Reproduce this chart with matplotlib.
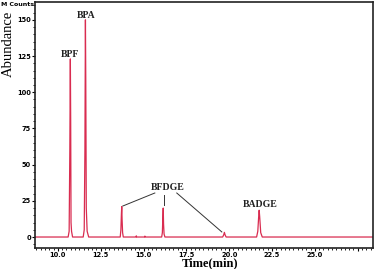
import matplotlib
matplotlib.use("Agg")
import matplotlib.pyplot as plt
from matplotlib.ticker import MultipleLocator

# --- chromatogram trace (time in min, abundance in M counts) ---
trace_time = [8.70, 10.60, 10.66, 10.70, 10.73, 10.75, 10.77, 10.80, 10.86, 11.48,
              11.54, 11.58, 11.61, 11.63, 11.66, 11.71, 11.80, 13.64, 13.68, 13.71,
              13.73, 13.75, 13.78, 13.82, 14.56, 14.58, 14.60, 15.06, 15.08, 15.10,
              16.06, 16.10, 16.13, 16.15, 16.17, 16.20, 16.25, 19.62, 19.68, 19.72,
              19.76, 19.82, 21.60, 21.67, 21.72, 21.75, 21.78, 21.84, 21.93, 28.40]
trace_abund = [0.0, 0.0, 4.0, 60.0, 123.0, 80.0, 10.0, 4.0, 0.0, 0.0,
               5.0, 60.0, 150.0, 110.0, 20.0, 4.0, 0.0, 0.0, 5.0, 16.0,
               21.0, 12.0, 3.0, 0.0, 0.0, 0.8, 0.0, 0.0, 0.6, 0.0,
               0.0, 3.0, 14.0, 20.0, 9.0, 2.0, 0.0, 0.0, 1.5, 3.2,
               1.5, 0.0, 0.0, 4.0, 14.0, 18.5, 14.0, 3.0, 0.0, 0.0]

# peak labels: (text, x, y)
labels = ["BPF", "BPA", "BFDGE", "BADGE"]
label_x = [10.70, 11.64, 16.40, 21.81]
label_y = [125.8, 152.7, 34.5, 22.8]
# leader lines from the BFDGE label to its three peaks
leader_from = [(15.66, 30.4), (16.18, 29.0), (16.94, 30.4)]
leader_to = [(13.79, 21.4), (16.18, 22.0), (19.57, 3.5)]

fig = plt.figure(figsize=(3.75, 2.69), dpi=100)
ax = fig.add_axes([0.093, 0.078, 0.902, 0.915])

ax.plot(trace_time, trace_abund, color="#d92c50", lw=0.9)

for t, x, y in zip(labels, label_x, label_y):
    ax.text(x, y, t, ha="center", va="center", fontsize=7,
            family="Liberation Serif", fontweight="bold", color="#222222")
for (x0, y0), (x1, y1) in zip(leader_from, leader_to):
    ax.plot([x0, x1], [y0, y1], color="#333333", lw=0.7)

ax.set_xlim(8.66, 28.4)
ax.set_ylim(-7.6, 162.4)
ax.xaxis.set_minor_locator(MultipleLocator(0.25))
ax.yaxis.set_major_locator(MultipleLocator(25))
ax.yaxis.set_minor_locator(MultipleLocator(5))
ax.set_xticks([10.0, 12.5, 15.0, 17.5, 20.0, 22.5, 25.0, 27.5])
ax.set_xticklabels(["10.0", "12.5", "15.0", "17.5", "20.0", "22.5", "25.0", ""])
ax.tick_params(axis="both", which="major", direction="out", length=2, width=0.8,
               labelsize=4.8, pad=0.8)
ax.tick_params(axis="both", which="minor", direction="out", length=1.2, width=0.6)
for lab in ax.get_xticklabels() + ax.get_yticklabels():
    lab.set_fontweight("bold")
for s in ax.spines.values():
    s.set_linewidth(1.2)
    s.set_color("#222222")

fig.text(0.561, 0.021, "Time(min)", family="Liberation Serif", fontweight="bold",
         fontsize=9, ha="center", va="center")
fig.text(0.021, 0.836, "Abundance", family="Liberation Serif", fontsize=10.5,
         rotation=90, ha="center", va="center")
fig.text(0.003, 0.982, "M Counts", fontsize=4.5, fontweight="bold", va="center")

fig.savefig("out.png", dpi=100)
